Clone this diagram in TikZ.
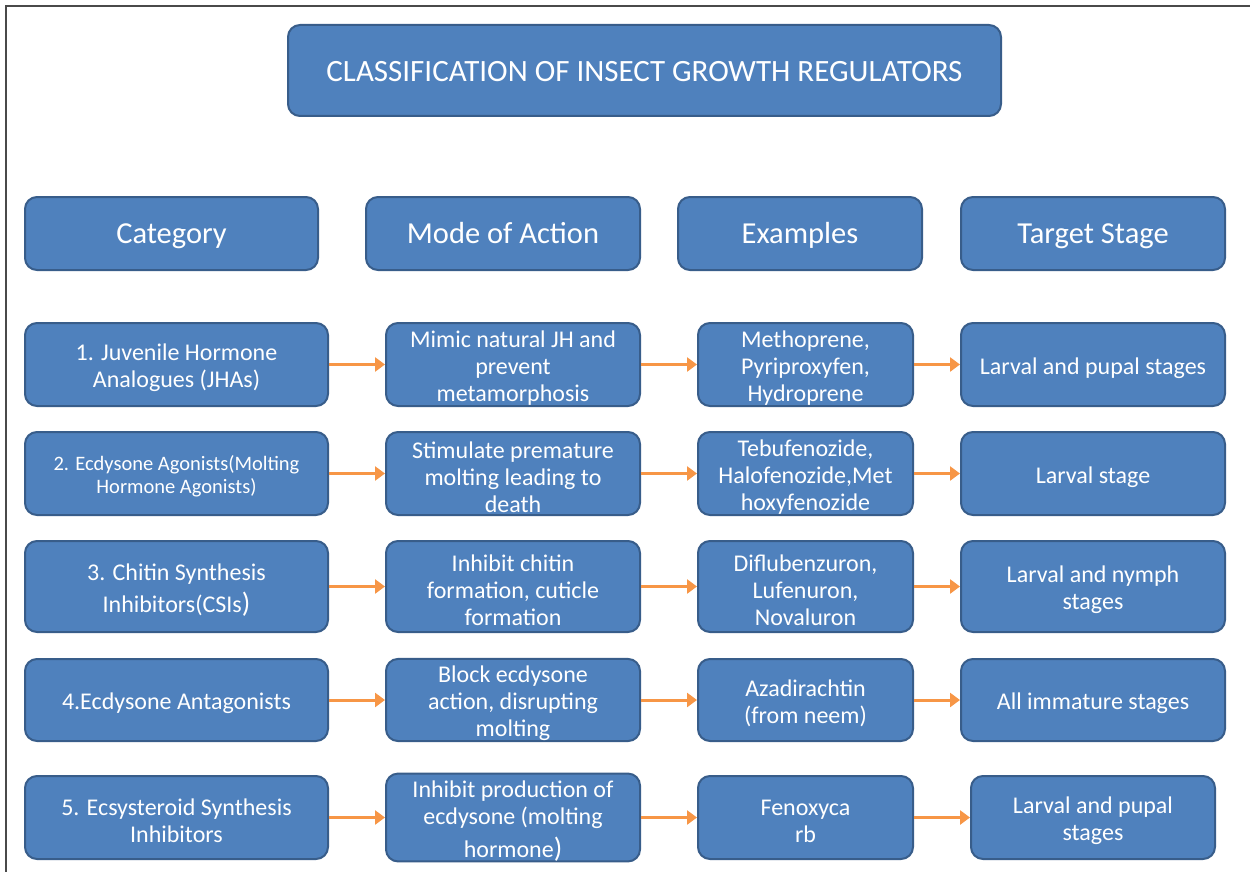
\documentclass[tikz,border=0pt]{standalone}
\usepackage{fontspec}
\setmainfont{Carlito}
\usetikzlibrary{arrows.meta}
\definecolor{boxfill}{HTML}{4F81BD}
\definecolor{boxline}{HTML}{385D8A}
\definecolor{arrowc}{HTML}{F79646}
\definecolor{framec}{HTML}{4A4A4A}
% struts that push the first line of a cell slightly down
\newcommand\cellstrut{\rule{0pt}{24pt}}
\newcommand\smallstrut{\rule{0pt}{20.5pt}}
\tikzset{
  box/.style={draw=boxline, fill=boxfill, line width=2pt, rounded corners=12pt,
    text=white, align=center, inner sep=0pt},
  titlebox/.style={box, font=\fontsize{31}{36}\selectfont, text height=25pt, text depth=3pt},
  headbox/.style={box, minimum height=73pt, font=\fontsize{30.5}{35}\selectfont,
    text height=25pt, text depth=5pt},
  cellbox/.style={box, font=\fontsize{24}{27}\selectfont},
  smallcell/.style={box, font=\fontsize{20.5}{23}\selectfont},
  link/.style={draw=arrowc, line width=3pt, -{Triangle[length=10pt,width=14pt]}},
}
\begin{document}
\begin{tikzpicture}[x=1pt,y=-1pt]
\useasboundingbox (0,0) rectangle (1250,872);
\fill[white] (0,0) rectangle (1250,872);
% page frame
\draw[framec, line width=1.5pt] (6,872) -- (6,6) -- (1250,6);

% title
\node[titlebox, minimum width=713pt, minimum height=91pt] (title) at (644.5,70.5)
  {CLASSIFICATION OF INSECT GROWTH REGULATORS};

% column headers
\node[headbox, minimum width=293pt] (hcat) at (171.5,233.5) {Category};
\node[headbox, minimum width=274pt] (hmode) at (503,233.5) {Mode of Action};
\node[headbox, minimum width=244pt] (hex) at (800,233.5) {Examples};
\node[headbox, minimum width=264pt] (htar) at (1093,233.5) {Target Stage};

% row 1
\node[cellbox, minimum width=303pt, minimum height=83pt] (c1) at (176.5,364.5)
  {\cellstrut 1. Juvenile Hormone\\Analogues (JHAs)};
\node[cellbox, minimum width=254pt, minimum height=83pt] (m1) at (513,364.5)
  {\cellstrut Mimic natural JH and\\prevent\\metamorphosis};
\node[cellbox, minimum width=215pt, minimum height=83pt] (e1) at (805.5,364.5)
  {\cellstrut Methoprene,\\Pyriproxyfen,\\Hydroprene};
\node[cellbox, minimum width=264pt, minimum height=83pt] (t1) at (1093,364.5)
  {\cellstrut Larval and pupal stages};

% row 2
\node[smallcell, minimum width=303pt, minimum height=83pt] (c2) at (176.5,473.5)
  {\smallstrut 2. Ecdysone Agonists(Molting\\Hormone Agonists)};
\node[cellbox, minimum width=254pt, minimum height=83pt] (m2) at (513,473.5)
  {\cellstrut Stimulate premature\\molting leading to\\death};
\node[cellbox, minimum width=215pt, minimum height=83pt] (e2) at (805.5,473.5)
  {\cellstrut Tebufenozide,\\Halofenozide,Met\\hoxyfenozide};
\node[cellbox, minimum width=264pt, minimum height=83pt] (t2) at (1093,473.5)
  {\cellstrut Larval stage};

% row 3
\node[cellbox, minimum width=303pt, minimum height=91pt] (c3) at (176.5,586.5)
  {\cellstrut 3. Chitin Synthesis\\[5pt]Inhibitors(CSIs{\fontsize{28}{27}\selectfont)}};
\node[cellbox, minimum width=254pt, minimum height=91pt] (m3) at (513,586.5)
  {\cellstrut Inhibit chitin\\formation, cuticle\\formation};
\node[cellbox, minimum width=215pt, minimum height=91pt] (e3) at (805.5,586.5)
  {\cellstrut Diflubenzuron,\\Lufenuron,\\Novaluron};
\node[cellbox, minimum width=264pt, minimum height=91pt] (t3) at (1093,586.5)
  {\cellstrut Larval and nymph\\stages};

% row 4
\node[cellbox, minimum width=303pt, minimum height=82pt] (c4) at (176.5,700)
  {\cellstrut 4.Ecdysone Antagonists};
\node[cellbox, minimum width=254pt, minimum height=82pt] (m4) at (513,700)
  {\cellstrut Block ecdysone\\action, disrupting\\molting};
\node[cellbox, minimum width=215pt, minimum height=82pt] (e4) at (805.5,700)
  {\cellstrut Azadirachtin\\(from neem)};
\node[cellbox, minimum width=264pt, minimum height=82pt] (t4) at (1093,700)
  {\cellstrut All immature stages};

% row 5
\node[cellbox, minimum width=303pt, minimum height=83pt] (c5) at (176.5,817.5)
  {\cellstrut 5. Ecsysteroid Synthesis\\Inhibitors};
\node[cellbox, minimum width=254pt, minimum height=83pt] (m5) at (513,817.5)
  {\cellstrut Inhibit production of\\ecdysone (molting\\[6pt]hormone{\fontsize{28}{27}\selectfont)}};
\node[cellbox, minimum width=215pt, minimum height=83pt] (e5) at (805.5,817.5)
  {\cellstrut Fenoxyca\\rb};
\node[cellbox, minimum width=244pt, minimum height=83pt] (t5) at (1093,817.5)
  {\cellstrut Larval and pupal\\stages};

% connectors along each row
\foreach \r in {1,...,5}{
  \draw[link] (c\r) -- (m\r);
  \draw[link] (m\r) -- (e\r);
  \draw[link] (e\r) -- (t\r);
}
\end{tikzpicture}
\end{document}
